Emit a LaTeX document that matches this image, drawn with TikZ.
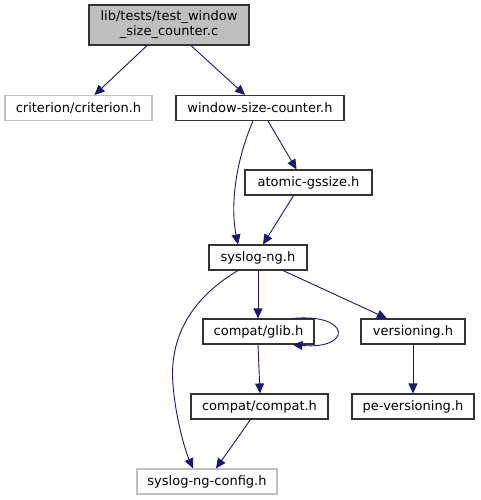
\documentclass[tikz,border=0pt]{standalone}
\usepackage{fontspec}
\setmainfont{DejaVu Sans}
\usetikzlibrary{arrows.meta,calc}
\definecolor{edgeblue}{HTML}{191970}
\definecolor{rootgray}{HTML}{BFBFBF}
\definecolor{extgray}{HTML}{BFBFBF}
\tikzset{
  blk/.style={draw=black!80,line width=1.1pt,fill=white,align=center,inner sep=0pt,font=\fontsize{13}{15}\selectfont,minimum height=25pt},
  ext/.style={blk,draw=extgray},
  rootbox/.style={blk,fill=rootgray,minimum height=40pt},
  fl/.style={-{Triangle[length=10pt,width=9pt]},draw=edgeblue,line width=0.9pt},
}
\begin{document}
\begin{tikzpicture}[x=1pt,y=-1pt]
\useasboundingbox (0,0) rectangle (480,500);
\node[rootbox,minimum width=160pt] (root) at (169,25) {lib/tests/test\_window\\\_size\_counter.c};
\foreach \name/\x/\y/\w/\txt/\st in {
  crit/78.5/108/147/{criterion/criterion.h}/ext,
  wsc/260/108/168/{window-size-counter.h}/blk,
  atom/308.5/182.5/127/{atomic-gssize.h}/blk,
  slng/258/257.5/98/{syslog-ng.h}/blk,
  glib/258.5/331.5/111/{compat/glib.h}/blk,
  vers/413/331.5/104/{versioning.h}/blk,
  compat/259.5/406.5/137/{compat/compat.h}/blk,
  pever/413/406.5/122/{pe-versioning.h}/blk,
  conf/207/481.5/140/{syslog-ng-config.h}/ext} {
  \node[\st,minimum width=\w pt] (\name) at (\x,\y) {\txt};
}
\draw[fl] ([xshift=-22pt]root.south) -- ([xshift=16pt]crit.north);
\draw[fl] ([xshift=22pt]root.south) -- ([xshift=-15pt]wsc.north);
\draw[fl] ([xshift=-7pt]wsc.south) .. controls (236,160) and (230,205) .. ([xshift=-20pt]slng.north);
\draw[fl] ([xshift=8pt]wsc.south) -- ([xshift=-12pt]atom.north);
\draw[fl] ([xshift=-15pt]atom.south) -- ([xshift=5pt]slng.north);
\draw[fl] (slng.south) -- ([xshift=-0.5pt]glib.north);
\draw[fl] ([xshift=25pt]slng.south) -- ([xshift=-26pt]vers.north);
\draw[fl] ([xshift=-20pt]slng.south) .. controls (180,305) and (170,350) .. (173,385) .. controls (176,420) and (185,450) .. ([xshift=-14pt]conf.north);
\draw[fl] ([xshift=34pt]glib.north) .. controls (352,313) and (352,350) .. ([xshift=34pt]glib.south);
\draw[fl] ([xshift=-0.5pt]glib.south) -- ([xshift=0.5pt]compat.north);
\draw[fl] ([xshift=-9pt]compat.south) -- ([xshift=9pt]conf.north);
\draw[fl] (vers.south) -- (pever.north);
\end{tikzpicture}
\end{document}
